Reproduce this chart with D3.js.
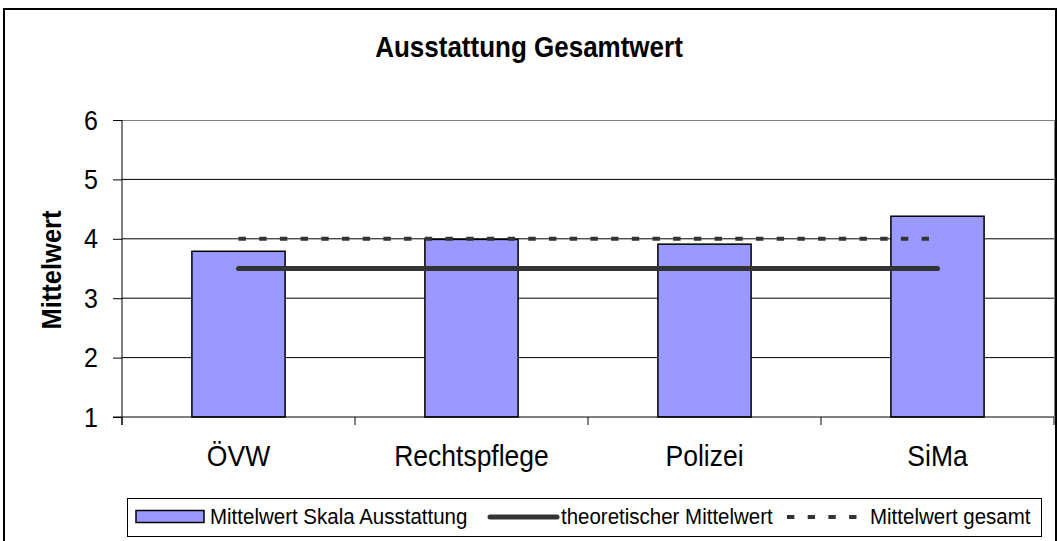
<!DOCTYPE html>
<html>
<head>
<meta charset="utf-8">
<script src="https://cdn.jsdelivr.net/npm/d3@7"></script>
<style>
  body { margin: 0; background: #fff; }
  svg { display: block; font-family: "Liberation Sans", Arial, sans-serif; }
</style>
</head>
<body>
<div class="chart"></div>
<script>
// chart data
var categories = ["ÖVW", "Rechtspflege", "Polizei", "SiMa"];
var meanValues = [3.79, 3.99, 3.91, 4.38];
var theoreticalMean = [3.5, 3.5, 3.5, 3.5];
var overallMean = [4.0, 4.0, 4.0, 4.0];
var yTicks = [1, 2, 3, 4, 5, 6];
var legendLabels = ["Mittelwert Skala Ausstattung", "theoretischer Mittelwert", "Mittelwert gesamt"];

var width = 1058, height = 541;
var plot = { left: 122, right: 1054, top: 120, bottom: 417 };
var stretch = 1.12; // text in the source is slightly taller than wide

var svg = d3.select(".chart").append("svg")
  .attr("width", width)
  .attr("height", height);

// outer frame
svg.append("rect")
  .attr("x", 4).attr("y", 9)
  .attr("width", 1052).attr("height", 560)
  .attr("fill", "#fff")
  .attr("stroke", "#000")
  .attr("stroke-width", 2);

svg.append("text")
  .attr("transform", "translate(529,57) scale(1," + stretch + ")")
  .attr("text-anchor", "middle")
  .attr("font-size", "26px")
  .attr("font-weight", "bold")
  .text("Ausstattung Gesamtwert");

var x = d3.scaleBand()
  .domain(categories)
  .range([plot.left, plot.right]);

var y = d3.scaleLinear()
  .domain([1, 6])
  .range([plot.bottom, plot.top]);

// gridlines
svg.append("g").selectAll("line").data(yTicks.filter(function(d) { return d > 1 && d < 6; }))
  .enter().append("line")
  .attr("x1", plot.left).attr("x2", plot.right)
  .attr("y1", function(d) { return y(d); })
  .attr("y2", function(d) { return y(d); })
  .attr("stroke", "#000")
  .attr("stroke-width", 1);

// plot border (top + right)
svg.append("path")
  .attr("d", "M" + plot.left + "," + (plot.top + 0.5) + "H" + (plot.right + 0.5) + "V" + plot.bottom)
  .attr("fill", "none")
  .attr("stroke", "#808080")
  .attr("stroke-width", 1);

// bars
var barW = x.bandwidth() * 0.4;
svg.append("g").selectAll("rect").data(meanValues)
  .enter().append("rect")
  .attr("x", function(d, i) { return x(categories[i]) + (x.bandwidth() - barW) / 2; })
  .attr("y", function(d) { return y(d); })
  .attr("width", barW)
  .attr("height", function(d) { return y(1) - y(d); })
  .attr("fill", "#9999ff")
  .attr("stroke", "#000")
  .attr("stroke-width", 1.5);

var lineGen = d3.line()
  .x(function(d, i) { return x(categories[i]) + x.bandwidth() / 2; })
  .y(function(d) { return y(d); });

svg.append("path")
  .datum(theoreticalMean)
  .attr("d", lineGen)
  .attr("fill", "none")
  .attr("stroke", "#333")
  .attr("stroke-width", 5)
  .attr("stroke-linecap", "round");

svg.append("path")
  .datum(overallMean)
  .attr("d", lineGen)
  .attr("fill", "none")
  .attr("stroke", "#333")
  .attr("stroke-width", 4)
  .attr("stroke-dasharray", "7.4,13.3");

// y axis
var yAxis = d3.axisLeft(y).tickValues(yTicks).tickSize(9).tickPadding(0).tickFormat(d3.format("d"));
var gy = svg.append("g")
  .attr("transform", "translate(" + plot.left + ",0)")
  .call(yAxis);
gy.select(".domain").remove();
gy.append("line")
  .attr("x1", 0).attr("x2", 0)
  .attr("y1", plot.top).attr("y2", plot.bottom + 8)
  .attr("stroke", "#000");
gy.selectAll(".tick text")
  .attr("x", 0).attr("dy", null)
  .attr("transform", "translate(-24,9) scale(1," + stretch + ")")
  .attr("font-size", "25px")
  .attr("font-family", "Liberation Sans, Arial, sans-serif")
  .attr("fill", "#000");

// x axis
var boundaries = categories.map(function(c) { return x(c); }).concat([plot.right]);
var gx = svg.append("g");
gx.append("line")
  .attr("x1", plot.left - 9).attr("x2", plot.right)
  .attr("y1", plot.bottom).attr("y2", plot.bottom)
  .attr("stroke", "#000");
gx.selectAll("line.tick").data(boundaries)
  .enter().append("line")
  .attr("class", "tick")
  .attr("x1", function(d) { return d; })
  .attr("x2", function(d) { return d; })
  .attr("y1", plot.bottom).attr("y2", plot.bottom + 8)
  .attr("stroke", "#000");
gx.selectAll("text").data(categories)
  .enter().append("text")
  .attr("transform", function(d) {
    return "translate(" + (x(d) + x.bandwidth() / 2) + ",466) scale(1," + stretch + ")";
  })
  .attr("text-anchor", "middle")
  .attr("font-size", "26.5px")
  .text(function(d) { return d; });

svg.append("text")
  .attr("transform", "translate(61,270) rotate(-90) scale(1," + stretch + ")")
  .attr("text-anchor", "middle")
  .attr("font-size", "25.5px")
  .attr("font-weight", "bold")
  .text("Mittelwert");

// legend
var legend = svg.append("g");
legend.append("rect")
  .attr("x", 127.5).attr("y", 498.5)
  .attr("width", 914).attr("height", 38)
  .attr("fill", "#fff")
  .attr("stroke", "#000");
legend.append("rect")
  .attr("x", 136).attr("y", 510.5)
  .attr("width", 68).attr("height", 12)
  .attr("fill", "#9999ff")
  .attr("stroke", "#000")
  .attr("stroke-width", 1.5);
legend.append("line")
  .attr("x1", 490).attr("x2", 557)
  .attr("y1", 517).attr("y2", 517)
  .attr("stroke", "#333").attr("stroke-width", 5).attr("stroke-linecap", "round");
legend.append("line")
  .attr("x1", 787).attr("x2", 868)
  .attr("y1", 517).attr("y2", 517)
  .attr("stroke", "#333").attr("stroke-width", 4).attr("stroke-dasharray", "7.4,13.3");
var legendX = [210, 561, 870];
legend.selectAll("text").data(legendLabels)
  .enter().append("text")
  .attr("transform", function(d, i) { return "translate(" + legendX[i] + ",524) scale(1," + stretch + ")"; })
  .attr("font-size", "20.5px")
  .text(function(d) { return d; });
</script>
</body>
</html>
